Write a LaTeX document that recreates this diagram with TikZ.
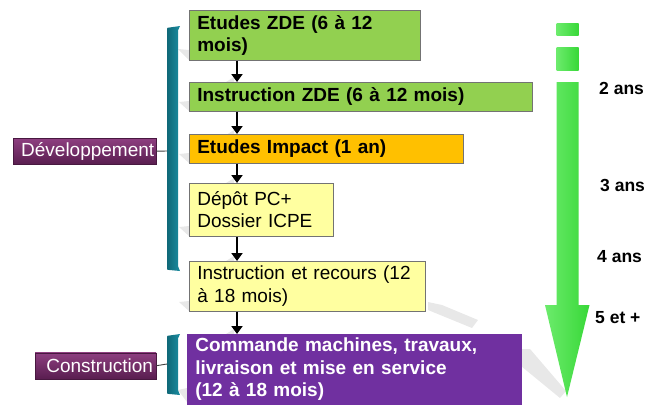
\documentclass[tikz,border=0pt]{standalone}
\usepackage{fontspec}
\setmainfont{Liberation Sans}
\usetikzlibrary{arrows.meta,calc}
\definecolor{zdegreen}{HTML}{92D050}
\definecolor{impactorange}{HTML}{FFC000}
\definecolor{paleyellow}{HTML}{FFFFA0}
\definecolor{buildpurple}{HTML}{7030A0}
\definecolor{labtop}{HTML}{8E3F80}
\definecolor{labbot}{HTML}{5A1E50}
\definecolor{brteal}{HTML}{1A8CA0}
\definecolor{brdark}{HTML}{0F6878}
\definecolor{arrowgreen}{HTML}{38D838}
\definecolor{arrowlight}{HTML}{6CEB6C}
\begin{document}
\begin{tikzpicture}[x=1pt,y=-1pt,
  box/.style={draw=black!55, line width=0.6pt, rectangle, anchor=north west,
    inner xsep=8pt, inner ysep=0pt, align=left,
    font=\fontsize{19}{22.5}\selectfont\bfseries},
  plainbox/.style={box, font=\fontsize{19}{22.5}\selectfont},
  phaselabel/.style={rectangle, anchor=north west, inner sep=0pt,
    top color=labtop, bottom color=labbot, draw=labbot!80!black, line width=0.4pt,
    text=white, font=\fontsize{19}{22}\selectfont},
  flowarrow/.style={line width=2.6pt, black, -{Triangle[length=8pt,width=11pt]}},
  tick/.style={line width=0.9pt, black!75},
  bracketfill/.style={left color=brdark, right color=brteal, draw=none},
  shadowfill/.style={fill=black, opacity=0.09, draw=none},
  yearlabel/.style={anchor=west, inner sep=0pt, font=\fontsize{17.5}{20}\selectfont\bfseries}
]
\useasboundingbox (0,0) rectangle (656,405);
\fill[white] (0,0) rectangle (656,405);

% soft shadows
\fill[shadowfill] (178,49) -- (189,50) -- (189,60) -- cycle;
\fill[shadowfill] (179,102) -- (189,101) -- (189,111) -- cycle;
\fill[shadowfill] (179,154) -- (189,153) -- (189,163) -- cycle;
\fill[shadowfill] (179,227) -- (189,226) -- (189,236) -- cycle;
\fill[shadowfill] (179,302) -- (189,301) -- (189,311) -- cycle;
\fill[shadowfill] (178,390) -- (187,388) -- (187,402) -- cycle;
\fill[shadowfill] (226,82) -- (234,77) -- (234,82) -- cycle;
\fill[shadowfill] (226,135) -- (234,130) -- (234,135) -- cycle;
\fill[shadowfill] (226,183) -- (234,178) -- (234,183) -- cycle;
\fill[shadowfill] (226,261) -- (234,256) -- (234,261) -- cycle;
\fill[shadowfill] (226,334) -- (234,329) -- (234,334) -- cycle;
\fill[shadowfill] (428,302) -- (442,305) -- (478,320) -- (472,328) -- (428,310) -- cycle;
\fill[shadowfill] (521,349) -- (530,349) -- (566,391) -- (560,398) -- (521,366) -- cycle;

% process boxes
\node[box, fill=zdegreen, text width=215pt, minimum height=50pt] (b1) at (189,10)
  {Etudes ZDE (6 à 12\\mois)};
\node[box, fill=zdegreen, text width=327pt, minimum height=29pt] (b2) at (189,82)
  {Instruction ZDE (6 à 12 mois)};
\node[box, fill=impactorange, text width=258pt, minimum height=29pt] (b3) at (189,134)
  {Etudes Impact (1 an)};
\node[plainbox, fill=paleyellow, text width=128pt, minimum height=53pt] (b4) at (189,183)
  {Dépôt PC+\\Dossier ICPE};
\node[plainbox, fill=paleyellow, text width=220pt, minimum height=50pt] (b5) at (189,261)
  {Instruction et recours (12\\à 18 mois)};
\node[box, fill=buildpurple, draw=buildpurple, text=white, text width=318pt, minimum height=70pt] (b6) at (187,334)
  {Commande machines, travaux,\\livraison et mise en service\\(12 à 18 mois)};

% flow arrows
\draw[flowarrow] ($(b1.south west)+(48,0)$) -- ($(b2.north west)+(48,0)$);
\draw[flowarrow] ($(b2.south west)+(48,0)$) -- ($(b3.north west)+(48,0)$);
\draw[flowarrow] ($(b3.south west)+(48,0)$) -- ($(b4.north west)+(48,0)$);
\draw[flowarrow] ($(b4.south west)+(48,0)$) -- ($(b5.north west)+(48,0)$);
\draw[flowarrow] ($(b5.south west)+(48,0)$) -- ($(b6.north west)+(50,0)$);

% brackets
\shade[bracketfill] (167,30) .. controls (167,27.5) .. (169.5,27.5) -- (180,26) -- (178,30.5)
  -- (178,266) -- (180,271) -- (169.5,270) .. controls (167,270) .. (167,267.5) -- cycle;
\shade[bracketfill] (167,338) .. controls (167,335.5) .. (169.5,335.5) -- (180,334) -- (178,338.5)
  -- (178,390) -- (180,395) -- (169.5,394) .. controls (167,394) .. (167,391.5) -- cycle;
\coordinate (devbr) at (167,151);
\coordinate (conbr) at (167,364);

% phase labels
\node[phaselabel, minimum width=143pt, minimum height=26pt] (dev) at (13,138) {\hspace{6pt}Développement};
\node[phaselabel, minimum width=121pt, minimum height=26pt] (con) at (35,352.5) {\hspace{8pt}Construction};
\draw[tick] (dev.east) -- (devbr);
\draw[tick] (con.east) -- (conbr);

% time arrow
\shade[left color=arrowlight, right color=arrowgreen, draw=none] (556.5,23.5) rectangle (578.5,35);
\shade[left color=arrowlight, right color=arrowgreen, draw=none] (556.5,47) rectangle (578.5,70);
\shade[left color=arrowlight, right color=arrowgreen, draw=none]
  (556.5,82) -- (578.5,82) -- (578.5,305) -- (589.5,305) -- (567,397) -- (545,305) -- (556.5,305) -- cycle;

% year labels
\node[yearlabel] (y2) at (599,88) {2 ans};
\node[yearlabel] (y3) at (600,185) {3 ans};
\node[yearlabel] (y4) at (597,257) {4 ans};
\node[yearlabel] (y5) at (595,318) {5 et +};
\end{tikzpicture}
\end{document}
